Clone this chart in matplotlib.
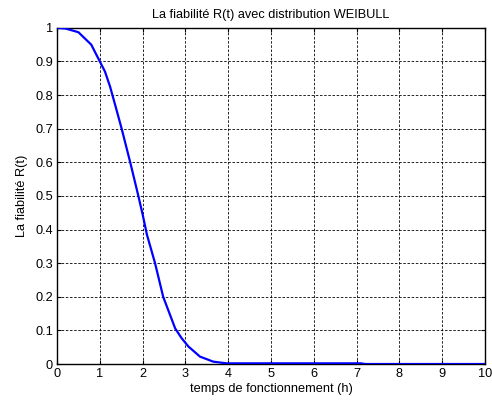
import numpy as np
import matplotlib
matplotlib.use("Agg")
import matplotlib.pyplot as plt

# Reliability curve R(t), Weibull distribution
t_hours = [0.0, 0.2, 0.5, 0.8, 1.0, 1.12, 1.24, 1.39, 1.51, 1.59, 1.71, 1.9,
           2.0, 2.1, 2.29, 2.48, 2.76, 2.91, 3.07, 3.34, 3.65, 3.96, 7.1, 7.2, 10.0]
reliability = [1.0, 0.998, 0.987, 0.95, 0.90, 0.87, 0.825, 0.756, 0.70, 0.66, 0.60, 0.50,
               0.445, 0.385, 0.30, 0.20, 0.106, 0.077, 0.052, 0.022, 0.007, 0.002, 0.002, 0.0, 0.0]

x_ticks = list(range(0, 11))
y_ticks = [0, 0.1, 0.2, 0.3, 0.4, 0.5, 0.6, 0.7, 0.8, 0.9, 1]
y_ticklabels = ["0", "0.1", "0.2", "0.3", "0.4", "0.5", "0.6", "0.7", "0.8", "0.9", "1"]

plt.rcParams['font.family'] = ['Liberation Sans', 'DejaVu Sans']

fig = plt.figure(figsize=(4.92, 4.05), dpi=100)
ax = fig.add_axes([0.1159, 0.1012, 0.870, 0.830])

ax.plot(t_hours, reliability, color=(0, 0, 1), linewidth=1.6, zorder=3)

ax.set_xlim(0, 10)
ax.set_ylim(0, 1)
ax.set_xticks(x_ticks)
ax.set_yticks(y_ticks)
ax.set_yticklabels(y_ticklabels)
ax.tick_params(direction='in', length=3, width=0.8, labelsize=9.2,
               top=True, right=True, pad=3)
ax.grid(True, color='black', linestyle=(0, (3, 2)), linewidth=0.6)
for side in ax.spines.values():
    side.set_linewidth(1.0)
    side.set_color('black')

ax.set_title("La fiabilité R(t) avec distribution WEIBULL", fontsize=9.2, pad=7)
ax.set_xlabel("temps de fonctionnement (h)", fontsize=9.2, labelpad=2)
ax.set_ylabel("La fiabilité R(t)", fontsize=9.2, labelpad=5)

fig.savefig("out.png", dpi=100)
